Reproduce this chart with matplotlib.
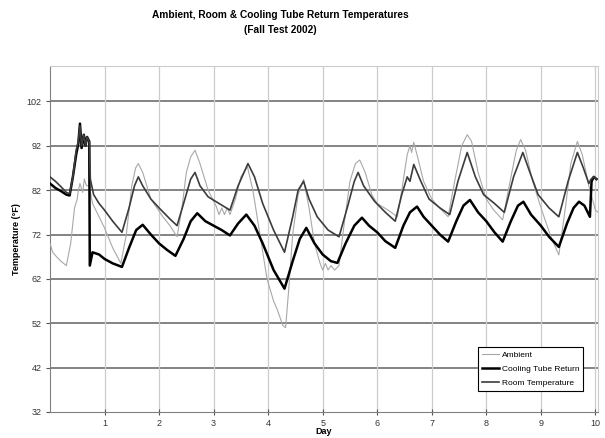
import matplotlib
matplotlib.use("Agg")
import matplotlib.pyplot as plt

plt.rcParams["font.family"] = ["Liberation Sans", "DejaVu Sans"]

# values (day, temperature in F)
roomDay = [0.0, 0.1, 0.2, 0.3, 0.36, 0.42, 0.48, 0.52, 0.55, 0.58, 0.62, 0.65, 0.68, 0.72,
           0.74, 0.8, 0.9, 1.0, 1.15, 1.32, 1.45, 1.55, 1.62, 1.7, 1.85, 2.0, 2.2, 2.33,
           2.45, 2.58, 2.66, 2.75, 2.9, 3.1, 3.3, 3.45, 3.63, 3.75, 3.9, 4.1, 4.3, 4.45,
           4.55, 4.65, 4.75, 4.9, 5.1, 5.3, 5.45, 5.58, 5.65, 5.75, 5.95, 6.15, 6.33, 6.45,
           6.55, 6.6, 6.67, 6.8, 6.95, 7.15, 7.33, 7.48, 7.65, 7.8, 7.95, 8.15, 8.33, 8.5,
           8.67, 8.8, 8.95, 9.15, 9.33, 9.5, 9.67, 9.78, 9.88, 9.92, 9.97, 10.02]
roomTemp = [85.0, 84.0, 82.8, 81.5, 81.2, 85, 91, 93, 96.5, 92, 94.5, 92, 94, 93,
            84.5, 81, 79, 77.5, 75, 72.5, 78, 83, 85, 83, 80, 78, 75.5, 74,
            79, 84.5, 86, 83, 80.5, 79, 77.5, 83, 88, 85, 79, 73, 68, 76,
            82, 84, 80, 76, 73, 71.5, 78, 84, 86, 83, 79.5, 77, 75, 81,
            85, 84, 87.8, 84, 80, 78, 76.5, 84, 90.5, 85, 81, 79, 77, 85,
            90.5, 86, 81, 78, 76, 84, 90.5, 87, 83.5, 84.5, 85, 84.5]

coolDay = [0.0, 0.1, 0.2, 0.3, 0.36, 0.42, 0.48, 0.52, 0.55, 0.58, 0.62, 0.65, 0.68, 0.72,
           0.73, 0.78, 0.9, 1.0, 1.15, 1.32, 1.45, 1.58, 1.7, 1.85, 2.0, 2.15, 2.3, 2.45,
           2.58, 2.7, 2.85, 3.0, 3.15, 3.3, 3.45, 3.6, 3.75, 3.9, 4.1, 4.3, 4.45, 4.58,
           4.7, 4.85, 5.0, 5.15, 5.27, 5.42, 5.58, 5.72, 5.85, 6.0, 6.15, 6.33, 6.48, 6.6,
           6.73, 6.85, 7.0, 7.15, 7.3, 7.45, 7.58, 7.7, 7.85, 8.0, 8.15, 8.3, 8.45, 8.58,
           8.68, 8.82, 9.0, 9.15, 9.33, 9.48, 9.6, 9.7, 9.8, 9.9, 9.93, 9.97, 10.02]
coolTemp = [83.5, 82.5, 81.8, 81, 80.8, 85, 90, 92.5, 97, 91.5, 94.5, 92, 94, 93,
            65, 68, 67.5, 66.5, 65.5, 64.7, 69, 73, 74.2, 72, 70, 68.5, 67.2, 71,
            75, 76.8, 75, 74, 73, 71.8, 74.5, 76.5, 74, 70, 64, 59.8, 66, 71,
            73.5, 70, 67.5, 66, 65.6, 70, 74, 75.8, 74, 72.5, 70.5, 69, 74, 77,
            78.3, 76, 74, 72, 70.4, 75, 78.5, 79.8, 77, 75, 72.5, 70.4, 75, 78.5,
            79.4, 76.5, 74, 71.5, 69.2, 74.5, 78, 79.4, 78.5, 76, 84, 85, 84.5]

ambDay = [0.0, 0.05, 0.12, 0.2, 0.3, 0.38, 0.45, 0.5, 0.52, 0.55, 0.6, 0.63, 0.67, 0.72,
          0.78, 0.9, 1.0, 1.15, 1.3, 1.4, 1.5, 1.57, 1.62, 1.7, 1.85, 2.07, 2.2, 2.33,
          2.42, 2.5, 2.58, 2.66, 2.75, 2.9, 3.05, 3.1, 3.15, 3.2, 3.25, 3.3, 3.4, 3.5,
          3.62, 3.72, 3.85, 3.98, 4.1, 4.17, 4.27, 4.32, 4.38, 4.45, 4.55, 4.65, 4.75, 4.85,
          4.95, 5.0, 5.05, 5.1, 5.15, 5.22, 5.3, 5.4, 5.5, 5.6, 5.68, 5.78, 5.9, 6.0,
          6.2, 6.37, 6.45, 6.55, 6.6, 6.63, 6.67, 6.75, 6.85, 7.0, 7.12, 7.3, 7.42, 7.55,
          7.65, 7.73, 7.85, 8.0, 8.13, 8.3, 8.42, 8.55, 8.63, 8.72, 8.85, 9.03, 9.2, 9.33,
          9.45, 9.55, 9.67, 9.76, 9.88, 10.0, 10.05]
ambTemp = [70, 68, 67, 66, 65, 70, 78, 80, 82, 83.5, 81.5, 84.5, 83, 83,
           79, 76, 73.5, 69, 65.5, 72, 83, 87, 88, 86, 80, 76, 74, 71.5,
           78, 86, 89.5, 91, 88, 82, 78.3, 76.5, 78, 76.5, 78, 76.5, 80, 85,
           87.3, 82, 72, 62, 57, 55, 51.5, 51, 60, 72, 81, 84.4, 78, 70,
           65.6, 64, 65.5, 64, 65, 64, 65, 75, 84, 88, 88.8, 86, 81, 79,
           77.5, 76, 82, 90, 92, 90.5, 92.8, 89, 84, 80, 78.3, 76, 84, 92,
           94.5, 93, 86, 80, 77.6, 75.3, 83, 91, 93.4, 91, 84, 77, 71, 67.4,
           78, 88, 93, 90, 83, 77.5, 77]

yTicks = [32, 42, 52, 62, 72, 82, 92, 102]
xTicks = [1, 2, 3, 4, 5, 6, 7, 8, 9, 10]

fig = plt.figure(figsize=(6.05, 4.38), dpi=100)
ax = fig.add_axes([0.0826, 0.0594, 0.906, 0.790])

ax.plot(ambDay, ambTemp, color="#a8a8a8", lw=0.8, label="Ambient", zorder=3)
ax.plot(coolDay, coolTemp, color="black", lw=1.8, label="Cooling Tube Return", zorder=4)
ax.plot(roomDay, roomTemp, color="#3c3c3c", lw=1.2, label="Room Temperature", zorder=5)

ax.set_xlim(0, 10.05)
ax.set_ylim(32, 110)
ax.set_yticks(yTicks)
ax.set_xticks(xTicks)
ax.tick_params(axis="both", labelsize=6.5, colors="#555555", labelcolor="#333333")
ax.tick_params(axis="y", direction="out", length=3, pad=3)
ax.tick_params(axis="x", direction="inout", length=4, pad=3)

for y in yTicks[1:]:
    ax.axhline(y, color="#7a7a7a", lw=1.3, zorder=1)
for x in xTicks:
    ax.axvline(x, color="#cccccc", lw=0.9, zorder=1)

ax.spines["left"].set_color("#808080")
ax.spines["bottom"].set_color("#808080")
ax.spines["top"].set_color("#cccccc")
ax.spines["right"].set_color("#cccccc")

ax.set_ylabel("Temperature (°F)", fontsize=6.5, fontweight="bold", labelpad=4)
ax.set_xlabel("Day", fontsize=6.5, fontweight="bold", labelpad=-1)

fig.text(0.463, 0.978, "Ambient, Room & Cooling Tube Return Temperatures\n(Fall Test 2002)",
         ha="center", va="top", fontsize=7.3, fontweight="bold", linespacing=1.65)

leg = ax.legend(loc="lower right", bbox_to_anchor=(0.973, 0.061), borderaxespad=0,
                fontsize=6, fancybox=False, framealpha=1, edgecolor="black",
                handlelength=2, handletextpad=0.3, labelspacing=0.75, borderpad=0.5)
leg.get_frame().set_linewidth(0.8)

fig.savefig("out.png", dpi=100)
